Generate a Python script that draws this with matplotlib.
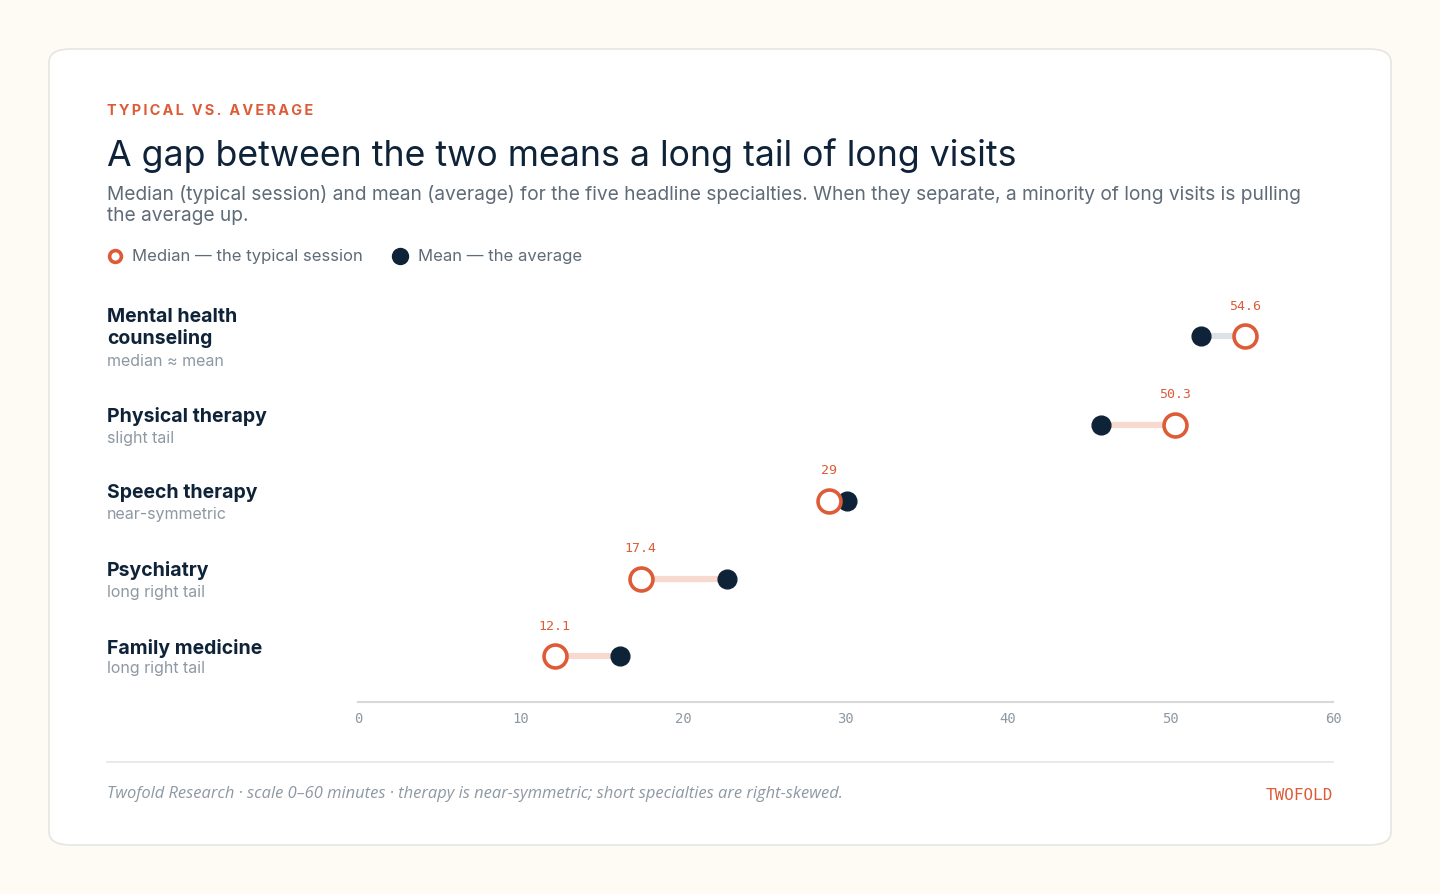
import matplotlib
matplotlib.use("Agg")
import matplotlib.pyplot as plt
from matplotlib.patches import FancyBboxPatch
from matplotlib.lines import Line2D

# data (minutes per session)
specialties = ["Mental health\ncounseling", "Physical therapy", "Speech therapy",
               "Psychiatry", "Family medicine"]
notes = ["median \u2248 mean", "slight tail", "near-symmetric",
         "long right tail", "long right tail"]
median = [54.6, 50.3, 29.0, 17.4, 12.1]
mean = [51.9, 45.7, 30.1, 22.7, 16.1]
median_labels = ["54.6", "50.3", "29", "17.4", "12.1"]
ticks = [0, 10, 20, 30, 40, 50, 60]

# layout / style
row_y = [0, 1.1125, 2.0625, 3.0375, 4.0]
link_colors = ["#DCE2E5", "#F7D9D0", "#F7D9D0", "#F7D9D0", "#F7D9D0"]
ORANGE = "#DE5B38"
NAVY = "#0E2238"
GREY = "#5F6B77"
LIGHT = "#8E98A2"
SANS = ["Inter", "DejaVu Sans"]
MONO = ["DejaVu Sans Mono"]

W, H = 1440, 894
fig = plt.figure(figsize=(W / 100, H / 100), dpi=100)
fig.patch.set_facecolor("#FDFBF3")


def fx(px):
    return px / W


def fy(py):
    return 1 - py / H


card = FancyBboxPatch((fx(49), fy(845)), fx(1391) - fx(49), fy(49) - fy(845),
                      boxstyle="round,pad=0,rounding_size=0.015",
                      transform=fig.transFigure, facecolor="white",
                      edgecolor="#E6E6E1", linewidth=1.2, zorder=0)
fig.add_artist(card)

# header
fig.text(fx(107), fy(111), "\u2009".join("TYPICAL VS. AVERAGE"), color=ORANGE,
         fontsize=10.4, fontweight="bold", family=SANS, va="center")
fig.text(fx(107), fy(156), "A gap between the two means a long tail of long visits",
         color=NAVY, fontsize=25.7, family=SANS, va="center")
fig.text(fx(107), fy(205),
         "Median (typical session) and mean (average) for the five headline specialties. "
         "When they separate, a minority of long visits is pulling\nthe average up.",
         color=GREY, fontsize=13.8, family=SANS, va="center", linespacing=1.27)

# legend
fig.add_artist(Line2D([fx(115)], [fy(256)], marker="o", markersize=8.5,
                      markerfacecolor="white", markeredgecolor=ORANGE,
                      markeredgewidth=2.6, transform=fig.transFigure))
fig.text(fx(132), fy(256), "Median \u2014 the typical session", color=GREY,
         fontsize=12, family=SANS, va="center")
fig.add_artist(Line2D([fx(400)], [fy(256)], marker="o", markersize=11.5,
                      color=NAVY, linestyle="none", transform=fig.transFigure))
fig.text(fx(418), fy(256), "Mean \u2014 the average", color=GREY,
         fontsize=12, family=SANS, va="center")

# plot area
ax = fig.add_axes([fx(358), fy(702), fx(1333) - fx(358), fy(290) - fy(702)])
ax.set_facecolor("none")
ax.set_xlim(0, 60)
ax.set_ylim(4.575, -0.575)
for s in ["top", "left", "right"]:
    ax.spines[s].set_visible(False)
ax.spines["bottom"].set_color("#D6D9DC")
ax.spines["bottom"].set_linewidth(1.5)
ax.set_yticks([])
ax.set_xticks(ticks)
ax.set_xticklabels([str(t) for t in ticks], family=MONO, fontsize=10, color=LIGHT)
ax.tick_params(axis="x", length=0, pad=7.5)

for i in range(len(specialties)):
    y = row_y[i]
    ax.plot([median[i], mean[i]], [y, y], color=link_colors[i], lw=4.5,
            solid_capstyle="butt", zorder=1)
    ax.plot(mean[i], y, "o", color=NAVY, markersize=13.5, zorder=2)
    ax.plot(median[i], y, "o", markerfacecolor="white", markeredgecolor=ORANGE,
            markersize=16.5, markeredgewidth=2.6, zorder=3)
    ax.annotate(median_labels[i], (median[i], y), xytext=(0, 30),
                textcoords="offset pixels", ha="center", va="center",
                family=MONO, fontsize=9.5, color=ORANGE)

    # row labels at the left
    n = specialties[i].count("\n") + 1
    name_off = 8 if n == 1 else 7.5
    sub_off = -name_off + 11.5 * (n - 1) + 21
    ax.annotate(specialties[i], (fx(107), y),
                xycoords=("figure fraction", "data"), xytext=(0, name_off),
                textcoords="offset pixels", ha="left", va="center",
                family=SANS, fontsize=14, fontweight="bold", color=NAVY,
                linespacing=1.2, annotation_clip=False)
    ax.annotate(notes[i], (fx(107), y),
                xycoords=("figure fraction", "data"), xytext=(0, -sub_off),
                textcoords="offset pixels", ha="left", va="center",
                family=SANS, fontsize=11.5, color=LIGHT, annotation_clip=False)

# footer
fig.add_artist(Line2D([fx(107), fx(1333)], [fy(762), fy(762)], color="#E3E5E7",
                      lw=1.2, transform=fig.transFigure))
fig.text(fx(107), fy(794),
         "Twofold Research \u00b7 scale 0\u201360 minutes \u00b7 therapy is near-symmetric; "
         "short specialties are right-skewed.",
         color=LIGHT, fontsize=11.9, style="italic", family=["Open Sans", "DejaVu Sans"],
         va="center")
fig.text(fx(1333), fy(795), "TWOFOLD", color=ORANGE, fontsize=11.5, family=MONO,
         ha="right", va="center")

fig.savefig("out.png", dpi=100, facecolor=fig.get_facecolor())
